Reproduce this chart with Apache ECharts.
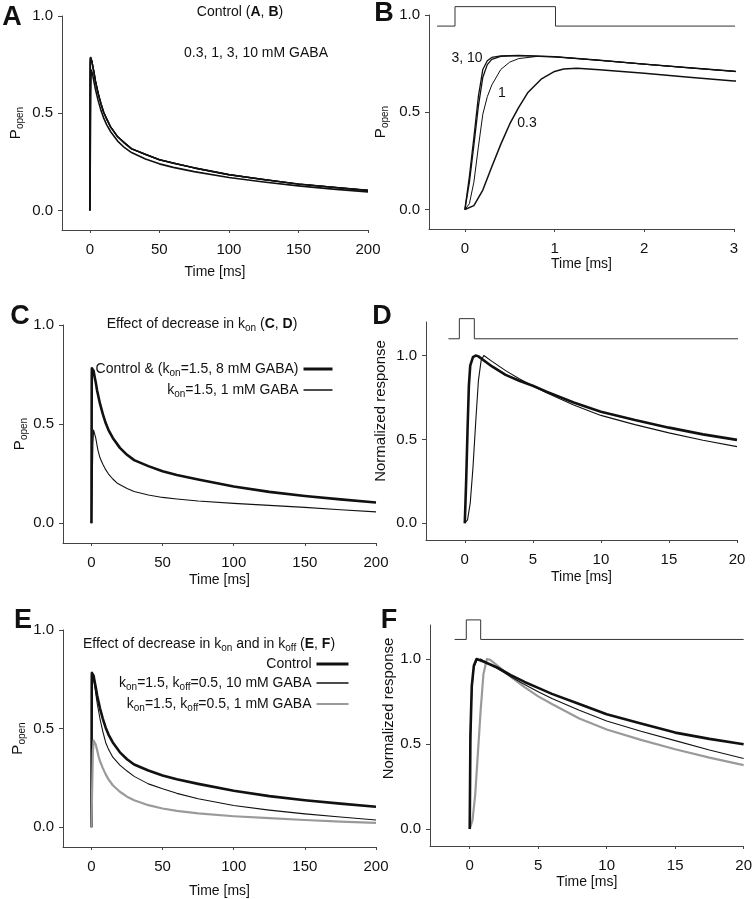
<!DOCTYPE html>
<html><head><meta charset="utf-8">
<script src="https://cdn.jsdelivr.net/npm/echarts@6/dist/echarts.min.js"></script>
<style>html,body{margin:0;padding:0;background:#fff}#c{width:755px;height:899px}</style>
</head><body><div id="c"></div>
<script>
// ---------- tick values ----------
const ticksLong = [0, 50, 100, 150, 200];
const ticksB = [0, 1, 2, 3];
const ticksShort = [0, 5, 10, 15, 20];
const ticksY = [0, 0.5, 1];

// ---------- Popen curves (time ms, Popen) : control model, GABA concentrations ----------
const gaba10 = [[0,0],[0.05,0.17],[0.1,0.37],[0.15,0.58],[0.2,0.72],[0.25,0.765],[0.3,0.782],[0.4,0.79],[0.6,0.792],[1,0.786],[1.5,0.768],[2,0.748],[2.5,0.729],[3,0.711],[4,0.668],[6,0.603],[8,0.55],[10,0.505],[12,0.47],[15,0.43],[20,0.38],[25,0.345],[30,0.318],[40,0.288],[50,0.262],[60,0.243],[75,0.22],[100,0.185],[125,0.158],[150,0.137],[175,0.12],[200,0.104]];
const gaba3 = [[0,0],[0.05,0.14],[0.1,0.33],[0.15,0.53],[0.2,0.68],[0.25,0.745],[0.3,0.772],[0.4,0.787],[0.6,0.791],[1,0.785],[1.5,0.767],[2,0.747],[2.5,0.728],[3,0.71],[4,0.667],[6,0.602],[8,0.549],[10,0.504],[15,0.429],[20,0.379],[30,0.317],[50,0.261],[75,0.219],[100,0.184],[150,0.136],[200,0.103]];
const gaba1 = [[0,0],[0.05,0.03],[0.1,0.14],[0.15,0.32],[0.2,0.49],[0.25,0.58],[0.3,0.64],[0.4,0.72],[0.5,0.758],[0.6,0.776],[0.8,0.787],[1,0.785],[1.5,0.767],[2,0.747],[2.5,0.728],[3,0.71],[4,0.667],[6,0.602],[8,0.549],[10,0.504],[15,0.429],[20,0.379],[30,0.317],[50,0.261],[75,0.219],[100,0.184],[150,0.136],[200,0.103]];
const gaba03 = [[0,0],[0.1,0.02],[0.2,0.1],[0.3,0.22],[0.4,0.335],[0.5,0.44],[0.6,0.525],[0.7,0.6],[0.85,0.67],[1,0.71],[1.1,0.722],[1.25,0.726],[1.5,0.718],[2,0.7],[2.5,0.68],[3,0.661],[4,0.625],[6,0.565],[8,0.515],[10,0.475],[12,0.443],[15,0.405],[20,0.357],[25,0.323],[30,0.298],[40,0.265],[50,0.24],[60,0.222],[75,0.2],[100,0.17],[125,0.147],[150,0.127],[175,0.11],[200,0.096]];

// ---------- C: kon = 1.5, 1 mM GABA ----------
const kon15_1mM = [[0,0],[0.5,0.2],[1,0.4],[1.5,0.47],[2,0.465],[3,0.43],[4.5,0.37],[6,0.33],[8,0.297],[10,0.27],[12,0.248],[15,0.223],[18.5,0.2],[25,0.175],[30,0.16],[40,0.142],[50,0.13],[60,0.122],[75,0.112],[100,0.1],[125,0.09],[150,0.08],[175,0.068],[200,0.057]];

// ---------- E: kon = 1.5, koff = 0.5 ----------
const koff_10mM = [[0,0],[0.2,0.7],[0.5,0.787],[1,0.78],[2,0.73],[3,0.68],[4,0.63],[6,0.55],[8,0.485],[10,0.43],[12,0.395],[15,0.355],[20,0.315],[25,0.285],[30,0.258],[40,0.22],[50,0.195],[60,0.172],[75,0.145],[100,0.11],[125,0.087],[150,0.068],[175,0.052],[200,0.037]];
const koff_1mM = [[0,0],[0.5,0.2],[1,0.38],[1.5,0.44],[2,0.445],[3,0.42],[4,0.39],[5,0.36],[6,0.335],[8,0.3],[10,0.268],[12,0.243],[15,0.213],[20,0.18],[25,0.155],[30,0.137],[40,0.112],[50,0.095],[60,0.083],[75,0.07],[100,0.056],[125,0.046],[150,0.037],[175,0.029],[200,0.022]];

// ---------- D: normalized responses ----------
const normCtrlD = [[0,0],[0.1,0.25],[0.2,0.55],[0.3,0.82],[0.4,0.94],[0.6,0.99],[0.8,1.0],[1,0.995],[2,0.935],[3,0.885],[4,0.85],[5,0.82],[6,0.785],[8,0.72],[10,0.665],[12.5,0.615],[15,0.57],[17.5,0.53],[20,0.497]];
const normKon1mM = [[0,0],[0.2,0.02],[0.4,0.12],[0.6,0.33],[0.8,0.6],[1,0.85],[1.2,0.97],[1.4,1.0],[2,0.965],[3,0.91],[4,0.862],[5,0.818],[6,0.778],[8,0.705],[10,0.643],[12.5,0.588],[15,0.539],[17.5,0.495],[20,0.457]];

// ---------- F: normalized responses ----------
const normCtrlF = [[0,0],[0.05,0.55],[0.15,0.84],[0.3,0.96],[0.5,1.0],[1,0.985],[2,0.95],[3,0.905],[4,0.865],[5,0.83],[6,0.795],[8,0.735],[10,0.675],[12.5,0.62],[15,0.567],[17.5,0.53],[20,0.499]];
const normKoff10 = [[0,0],[0.05,0.5],[0.15,0.82],[0.3,0.95],[0.5,0.99],[0.8,1.0],[1,0.99],[2,0.945],[3,0.895],[4,0.85],[5,0.808],[6,0.768],[8,0.698],[10,0.635],[12.5,0.575],[15,0.52],[17.5,0.465],[20,0.415]];
const normKoff1 = [[0,0],[0.2,0.05],[0.4,0.2],[0.6,0.45],[0.8,0.7],[1,0.91],[1.25,1.0],[1.5,0.995],[2,0.962],[3,0.895],[4,0.835],[5,0.78],[6,0.735],[8,0.65],[10,0.585],[12.5,0.524],[15,0.469],[17.5,0.42],[20,0.376]];

// ---------- GABA application pulses ----------
const pulseB = [[-0.31,0.943],[-0.11,0.943],[-0.11,1.043],[1.01,1.043],[1.01,0.943],[3.1,0.943]];
const pulseD = [[-1.2,1.1],[-0.4,1.1],[-0.4,1.22],[0.7,1.22],[0.7,1.1],[20.2,1.1]];
const pulseF = [[-1.1,1.115],[-0.25,1.115],[-0.25,1.23],[0.8,1.23],[0.8,1.115],[20,1.115]];

// ---------- styling ----------
const FF = "'Liberation Sans', Arial, sans-serif";
const AX = '#444';
const BLK = '#111';
const GRAY = '#9a9a9a';
const THICK = 2.6, THIN = 1.1, GW = 2.2;

const grids = [
  {left: 62, top: 16, width: 306, height: 214},   // A
  {left: 429, top: 15, width: 305, height: 214},  // B
  {left: 63, top: 325, width: 313, height: 218},  // C
  {left: 426, top: 322, width: 311, height: 218}, // D
  {left: 63, top: 630, width: 313, height: 218},  // E
  {left: 430, top: 625, width: 315, height: 221}  // F
];

function xAx(gi, min, max, ticks, gap) {
  return {
    type: 'value', gridIndex: gi, min: min, max: max,
    name: 'Time [ms]', nameLocation: 'middle', nameGap: gap,
    nameTextStyle: {fontFamily: FF, fontSize: 14, color: BLK},
    axisLine: {onZero: false, lineStyle: {color: AX, width: 1}},
    axisTick: {show: true, length: 3, customValues: ticks, lineStyle: {color: AX}},
    axisLabel: {customValues: ticks, margin: 12, fontFamily: FF, fontSize: 15, color: BLK},
    splitLine: {show: false}
  };
}
const subRich = {
  p: {fontFamily: FF, fontSize: 15, color: BLK},
  s: {fontFamily: FF, fontSize: 10, color: BLK, padding: [8, 0, 0, 0]}
};
function yAx(gi, max, name, gap, pad) {
  return {
    type: 'value', gridIndex: gi, min: -0.1, max: max,
    name: name, nameLocation: 'middle', nameGap: gap,
    nameTextStyle: {fontFamily: FF, fontSize: 15, color: BLK, rich: subRich, padding: pad || 0},
    axisLine: {onZero: false, lineStyle: {color: AX, width: 1}},
    axisTick: {show: true, length: 4, customValues: ticksY, lineStyle: {color: AX}},
    axisLabel: {customValues: ticksY, margin: 9, fontFamily: FF, fontSize: 15, color: BLK,
      formatter: v => v.toFixed(1)},
    splitLine: {show: false}
  };
}
const POPEN = '{p|P}{s|open}';

function ln(name, gi, data, width, color, extra) {
  return Object.assign({
    type: 'line', name: name, xAxisIndex: gi, yAxisIndex: gi, data: data,
    showSymbol: false, symbol: 'none', smooth: false,
    lineStyle: {width: width, color: color || BLK, join: 'round'}, itemStyle: {color: color || BLK},
    animation: false, silent: true
  }, extra || {});
}
function pulse(name, gi, data) {
  return ln(name, gi, data, 1, '#333', {clip: false});
}

const series = [
  // A
  ln('A 0.3 mM', 0, gaba03, 1.6),
  ln('A 1 mM', 0, gaba1, 1.4),
  ln('A 3 mM', 0, gaba3, 1.4),
  ln('A 10 mM', 0, gaba10, 1.4),
  // B
  pulse('B pulse', 1, pulseB),
  ln('B 0.3 mM', 1, gaba03, 1.5),
  ln('B 1 mM', 1, gaba1, 1),
  ln('B 3 mM', 1, gaba3, 1.3),
  ln('B 10 mM', 1, gaba10, 1.3),
  // C
  ln('Control & (kon=1.5, 8 mM GABA)', 2, gaba10, THICK),
  ln('kon=1.5, 1 mM GABA', 2, kon15_1mM, THIN),
  // D
  pulse('D pulse', 3, pulseD),
  ln('D control', 3, normCtrlD, THICK),
  ln('D kon 1 mM', 3, normKon1mM, THIN),
  // E
  ln('Control', 4, gaba10, THICK),
  ln('kon=1.5, koff=0.5, 10 mM GABA', 4, koff_10mM, THIN),
  ln('kon=1.5, koff=0.5, 1 mM GABA', 4, koff_1mM, GW, GRAY),
  // F
  pulse('F pulse', 5, pulseF),
  ln('F 1 mM', 5, normKoff1, GW, GRAY),
  ln('F 10 mM', 5, normKoff10, THIN),
  ln('F control', 5, normCtrlF, THICK)
];

const legRich = {
  n: {fontFamily: FF, fontSize: 14, color: BLK},
  s: {fontFamily: FF, fontSize: 10, color: BLK, padding: [8, 0, 0, 0]}
};
function legFmt(name) {
  return '{n|' + name.replace(/k(on|off)/g, 'k}{s|$1}{n|') + '}';
}
function legItem(name, width, color) {
  return {name: name, lineStyle: {width: width, color: color || BLK}};
}

function txt(x, y, text, size, weight, rich) {
  return {
    type: 'text', x: x, y: y, silent: true,
    style: {text: text, fontFamily: FF, fontSize: size, fontWeight: weight || 'normal',
      fill: BLK, align: 'center', verticalAlign: 'middle', rich: rich}
  };
}
const tRich = {
  n: {fontFamily: FF, fontSize: 14, color: BLK},
  b: {fontFamily: FF, fontSize: 14, fontWeight: 'bold', color: BLK},
  s: {fontFamily: FF, fontSize: 10, color: BLK, padding: [8, 0, 0, 0]}
};

const option = {
  backgroundColor: '#fff',
  animation: false,
  grid: grids,
  xAxis: [
    xAx(0, -20, 200, ticksLong, 35),
    xAx(1, -0.4, 3, ticksB, 28),
    xAx(2, -20, 200, ticksLong, 30),
    xAx(3, -2.85, 20, ticksShort, 30),
    xAx(4, -20, 200, ticksLong, 37),
    xAx(5, -2.9, 20, ticksShort, 29)
  ],
  yAxis: [
    yAx(0, 1.0, POPEN, 37),
    yAx(1, 1.0, POPEN, 39),
    yAx(2, 1.0, POPEN, 33),
    yAx(3, 1.2, 'Normalized response', 38, [0, 0, 0, 40]),
    yAx(4, 1.0, POPEN, 36),
    yAx(5, 1.2, 'Normalized response', 32, [0, 0, 0, 54])
  ],
  legend: [
    {orient: 'vertical', align: 'right', right: 421, top: 362, padding: 0,
     itemWidth: 29, itemHeight: 14, itemGap: 5, selectedMode: false,
     itemStyle: {opacity: 0},
     data: [legItem('Control & (kon=1.5, 8 mM GABA)', 3), legItem('kon=1.5, 1 mM GABA', 1.5)],
     formatter: legFmt, textStyle: {rich: legRich}},
    {orient: 'vertical', align: 'right', right: 405, top: 657, padding: 0,
     itemWidth: 32, itemHeight: 14, itemGap: 5, selectedMode: false,
     itemStyle: {opacity: 0},
     data: [legItem('Control', 3), legItem('kon=1.5, koff=0.5, 10 mM GABA', 1.5),
            legItem('kon=1.5, koff=0.5, 1 mM GABA', 2.2, GRAY)],
     formatter: legFmt, textStyle: {rich: legRich}}
  ],
  graphic: [
    txt(12, 18, 'A', 27, 'bold'),
    txt(384, 14, 'B', 27, 'bold'),
    txt(20, 317, 'C', 27, 'bold'),
    txt(382, 317, 'D', 27, 'bold'),
    txt(23, 621, 'E', 27, 'bold'),
    txt(389, 621, 'F', 27, 'bold'),
    txt(240, 12, '{n|Control (}{b|A}{n|, }{b|B}{n|)}', 14, 'normal', tRich),
    txt(256, 53, '0.3, 1, 3, 10 mM GABA', 14),
    txt(202, 324, '{n|Effect of decrease in k}{s|on}{n| (}{b|C}{n|, }{b|D}{n|)}', 14, 'normal', tRich),
    txt(209, 644, '{n|Effect of decrease in k}{s|on}{n| and in k}{s|off}{n| (}{b|E}{n|, }{b|F}{n|)}', 14, 'normal', tRich),
    txt(467, 58, '3, 10', 14),
    txt(502, 93, '1', 14),
    txt(527, 123, '0.3', 14)
  ],
  series: series
};

const chart = echarts.init(document.getElementById('c'), null, {renderer: 'canvas'});
chart.setOption(option);
</script></body></html>
